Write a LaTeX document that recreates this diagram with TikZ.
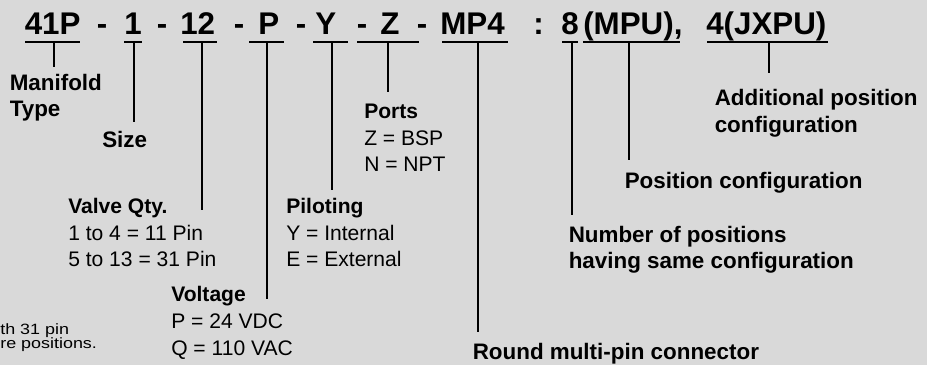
\documentclass[tikz,border=0pt]{standalone}
\usepackage{fontspec}
\setmainfont{Liberation Sans}
\definecolor{panel}{RGB}{217,217,217}
\tikzset{
  code/.style={font=\bfseries\fontsize{23.5}{28}\selectfont, inner sep=0pt, anchor=base west},
  head/.style={font=\bfseries\fontsize{16.8}{20}\selectfont, inner sep=0pt, anchor=base west, align=left},
  opts/.style={font=\fontsize{15.8}{20}\selectfont, inner sep=0pt, anchor=base west, align=left},
  note/.style={font=\fontsize{11.2}{10.5}\selectfont, inner sep=0pt, anchor=base west, align=left, xscale=1.2, transform shape},
  tick/.style={line width=1.2pt}
}

\begin{document}
\begin{tikzpicture}[x=0.75pt, y=-0.75pt]
\fill[panel] (0,0) rectangle (927,365);
\useasboundingbox (0,0) rectangle (927,365);
% part number
\node (type) [code] at (24.5,34) {41P};
\node (d1) [code] at (96.5,34) {-};
\node (size) [code] at (124,34) {1};
\node (d2) [code] at (156.5,34) {-};
\node (qty) [code] at (180,34) {12};
\node (d3) [code] at (233.5,34) {-};
\node (volt) [code] at (258,34) {P};
\node (d4) [code] at (295.5,34) {-};
\node (pilot) [code] at (315,34) {Y};
\node (d5) [code] at (356.5,34) {-};
\node (port) [code] at (380,34) {Z};
\node (d6) [code] at (416.5,34) {-};
\node (conn) [code] at (440,34) {MP4};
\node (colon) [code] at (533,34) {:};
\node (num) [code] at (561,34) {8};
\node (pos) [code] at (583,34) {(MPU),};
\node (addpos) [code] at (706,34) {4(JXPU)};
% underlines
\draw [tick] (25,42) -- (80,42);
\draw [tick] (124,42) -- (142,42);
\draw [tick] (183,42) -- (217,42);
\draw [tick] (249,42) -- (284,42);
\draw [tick] (313,42) -- (348,42);
\draw [tick] (357,42) -- (419,42);
\draw [tick] (442,42) -- (508,42);
\draw [tick] (562,42) -- (578,42);
\draw [tick] (583,42) -- (680,42);
\draw [tick] (707,42) -- (828,42);
% labels (base = last line)
\node (typel) [head] at (9.5,116.7) {Manifold\\Type};
\node (sizel) [head] at (102,147) {Size};
\node (qtyl) [opts] at (68,266.7) {\textbf{Valve Qty.}\\1 to 4 = 11 Pin\\5 to 13 = 31 Pin};
\node (voltl) [opts] at (171,355) {\textbf{Voltage}\\P = 24 VDC\\Q = 110 VAC};
\node (pilotl) [opts] at (286,266.7) {\textbf{Piloting}\\Y = Internal\\E = External};
\node (portl) [opts] at (364,171.7) {\textbf{Ports}\\Z = BSP\\N = NPT};
\node (connl) [head] at (472.5,359) {Round multi-pin connector};
\node (numl) [head] at (568.5,268.7) {Number of positions\\having same configuration};
\node (posl) [head] at (624.5,188) {Position configuration};
\node (addposl) [head] at (714.5,132) {Additional position\\configuration};
\node (notel) [note] at (0,348.3) {th 31 pin\\re positions.};
% leader lines
\coordinate (types) at (54,42);    \coordinate (typee) at (54,67);
\coordinate (sizes) at (134,42);   \coordinate (sizee) at (134,122);
\coordinate (qtys) at (202,42);    \coordinate (qtye) at (202,210);
\coordinate (volts) at (267,42);   \coordinate (volte) at (267,299);
\coordinate (pilots) at (332,42);  \coordinate (pilote) at (332,190);
\coordinate (ports) at (388,42);   \coordinate (porte) at (388,92);
\coordinate (conns) at (478,42);   \coordinate (conne) at (478,332);
\coordinate (nums) at (572,42);    \coordinate (nume) at (572,215);
\coordinate (poss) at (629,42);    \coordinate (pose) at (629,160);
\coordinate (addposs) at (769,42); \coordinate (addpose) at (769,73);
\draw [tick] (types) -- (typee);
\draw [tick] (sizes) -- (sizee);
\draw [tick] (qtys) -- (qtye);
\draw [tick] (volts) -- (volte);
\draw [tick] (pilots) -- (pilote);
\draw [tick] (ports) -- (porte);
\draw [tick] (conns) -- (conne);
\draw [tick] (nums) -- (nume);
\draw [tick] (poss) -- (pose);
\draw [tick] (addposs) -- (addpose);
\end{tikzpicture}
\end{document}
